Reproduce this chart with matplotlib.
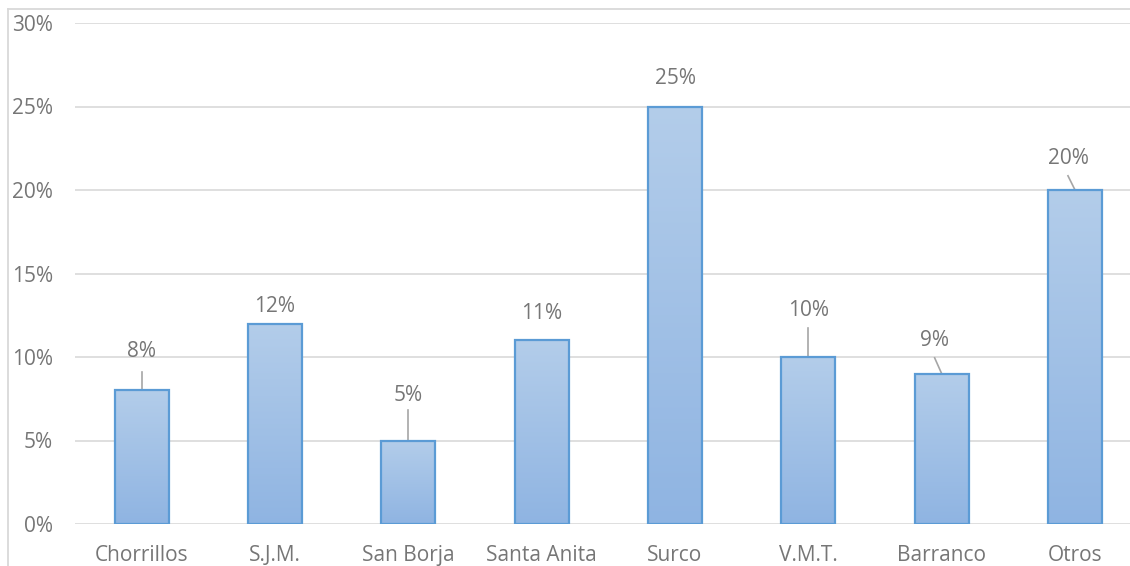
import matplotlib.pyplot as plt
import numpy as np
from matplotlib.lines import Line2D
from matplotlib.colors import LinearSegmentedColormap

# Données (pourcentages)
distritos = ['Chorrillos', 'S.J.M.', 'San Borja', 'Santa Anita', 'Surco', 'V.M.T.', 'Barranco', 'Otros']
valores = [8, 12, 5, 11, 25, 10, 9, 20]

# Position des étiquettes (layout)
etiq_y = [10.3, 13.0, 7.7, 12.6, 26.65, 12.8, 11.0, 21.9]
etiq_dx = [0, 0, 0, 0, 0, 0, -0.053, -0.053]
ligne_haut = [9.1, None, 6.85, None, None, 11.75, 9.95, 20.85]

gris = '#767676'
plt.rcParams['font.family'] = ['Open Sans', 'DejaVu Sans']

fig = plt.figure(figsize=(11.3, 5.66), dpi=100)
ax = fig.add_axes([75 / 1130, 1 - 524 / 566, 1066.7 / 1130, 501 / 566])

x = np.arange(len(distritos))
larg = 0.405
cmap = LinearSegmentedColormap.from_list('g', ['#8FB4E2', '#B3CDEA'])
grad = np.linspace(0, 1, 256).reshape(-1, 1)
for xi, v in zip(x, valores):
    ax.imshow(grad, cmap=cmap, origin='lower', aspect='auto',
              extent=(xi - larg / 2, xi + larg / 2, 0, v), zorder=2)
ax.bar(x, valores, width=larg, facecolor='none', edgecolor='#5B9BD5', linewidth=1.6, zorder=3)

for xi, v, yl, dx, lh in zip(x, valores, etiq_y, etiq_dx, ligne_haut):
    ax.text(xi + dx, yl, f'{v}%', ha='center', va='center', fontsize=15, color=gris)
    if lh is not None:
        ax.plot([xi + dx, xi], [lh, v], color='#A6A6A6', lw=1.2, zorder=1)

ax.set_xlim(-0.5, len(distritos) - 0.5)
ax.set_ylim(0, 30)
ax.set_yticks(range(0, 31, 5))
ax.set_yticklabels([f'{t}%' for t in range(0, 31, 5)])
ax.set_xticks(x)
ax.set_xticklabels(distritos)
ax.tick_params(length=0, labelsize=15, colors=gris)
ax.tick_params(axis='y', pad=16)
ax.tick_params(axis='x', pad=15)
ax.yaxis.grid(True, color='#DCDCDC', lw=1.3)
ax.set_axisbelow(True)
for s in ax.spines.values():
    s.set_visible(False)

# Cadre du graphique (rogné)
fig.add_artist(Line2D([8 / 1130, 1], [1 - 9 / 566] * 2, color='#D9D9D9', lw=1.3))
fig.add_artist(Line2D([8 / 1130] * 2, [0, 1 - 9 / 566], color='#D9D9D9', lw=1.3))

fig.savefig('out.png', dpi=100)
